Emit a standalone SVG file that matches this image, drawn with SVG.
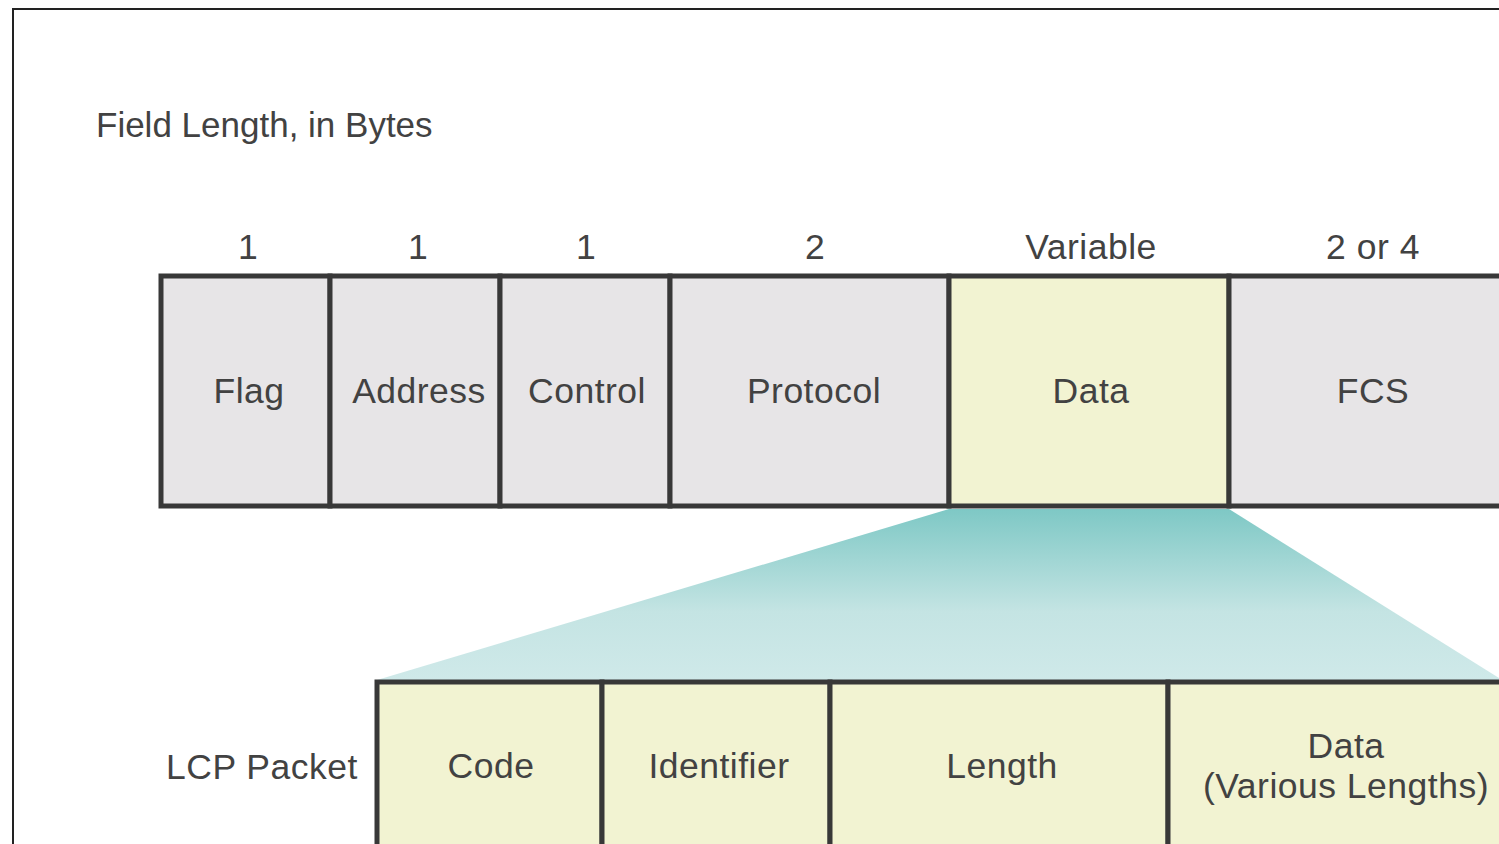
<svg xmlns="http://www.w3.org/2000/svg" width="1499" height="844" viewBox="0 0 1499 844">
<defs>
<linearGradient id="teal" x1="0" y1="0" x2="0" y2="1">
<stop offset="0" stop-color="#7ec8c5"/>
<stop offset="0.6" stop-color="#c4e4e3"/>
<stop offset="1" stop-color="#cfe9e9"/>
</linearGradient>
<style>
.t{font-family:"Liberation Sans",Arial,sans-serif;font-size:35.5px;letter-spacing:0.5px;fill:#424242;text-anchor:middle}
.gray{fill:#e7e5e7;stroke:#383838;stroke-width:5}
.yel{fill:#f2f3d2;stroke:#383838;stroke-width:5}
</style>
</defs>
<rect width="1499" height="844" fill="#ffffff"/>
<rect x="13" y="9" width="1500" height="850" fill="none" stroke="#222" stroke-width="2"/>
<text class="t" x="96" y="137" style="text-anchor:start;font-size:35px;letter-spacing:0">Field Length, in Bytes</text>
<g id="connectors">
<polygon points="949,509 1229,509 1502,680 377,680" fill="url(#teal)"/>
</g>
<g id="sizes">
<text class="t" x="248" y="259">1</text>
<text class="t" x="418" y="259">1</text>
<text class="t" x="586" y="259">1</text>
<text class="t" x="815" y="259">2</text>
<text class="t" x="1091" y="259">Variable</text>
<text class="t" x="1373" y="259">2 or 4</text>
</g>
<g id="flag"><rect class="gray" x="161" y="276" width="169" height="230"/><text class="t" x="249" y="403">Flag</text></g>
<g id="address"><rect class="gray" x="330" y="276" width="170" height="230"/><text class="t" x="419" y="403">Address</text></g>
<g id="control"><rect class="gray" x="500" y="276" width="170" height="230"/><text class="t" x="587" y="403">Control</text></g>
<g id="protocol"><rect class="gray" x="670" y="276" width="279" height="230"/><text class="t" x="814" y="403">Protocol</text></g>
<g id="data"><rect class="yel" x="949" y="276" width="280" height="230"/><text class="t" x="1091" y="403">Data</text></g>
<g id="fcs"><rect class="gray" x="1229" y="276" width="290" height="230"/><text class="t" x="1373" y="403">FCS</text></g>
<text class="t" x="166" y="779" style="text-anchor:start">LCP Packet</text>
<g id="code"><rect class="yel" x="377" y="682" width="225" height="180"/><text class="t" x="491" y="778">Code</text></g>
<g id="identifier"><rect class="yel" x="602" y="682" width="228" height="180"/><text class="t" x="719" y="778">Identifier</text></g>
<g id="length"><rect class="yel" x="830" y="682" width="338" height="180"/><text class="t" x="1002" y="778">Length</text></g>
<g id="lcpdata"><rect class="yel" x="1168" y="682" width="350" height="180"/><text class="t" x="1346" y="758">Data</text><text class="t" x="1346" y="798">(Various Lengths)</text></g>
</svg>
